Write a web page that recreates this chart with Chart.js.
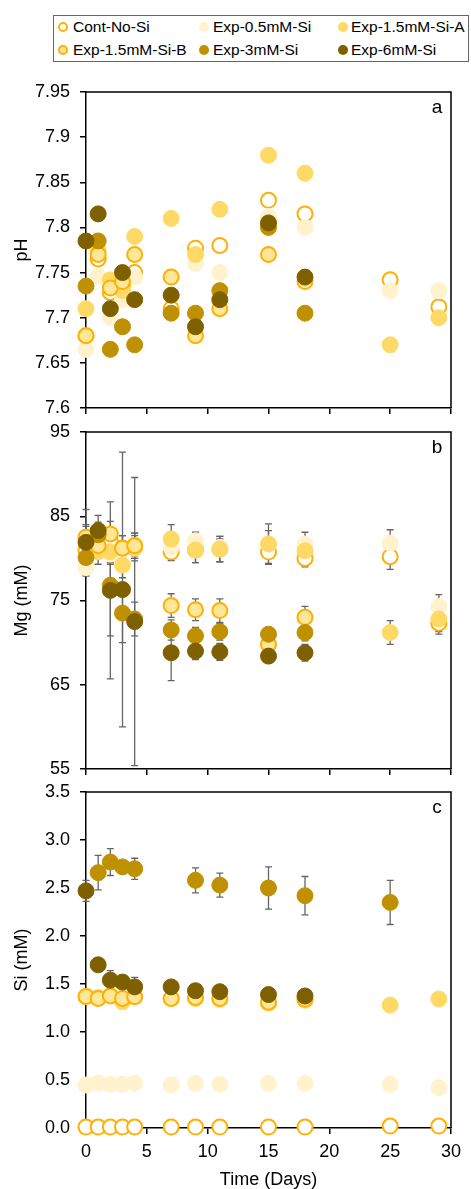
<!DOCTYPE html>
<html><head><meta charset="utf-8">
<script src="https://cdn.jsdelivr.net/npm/chart.js@4.4.1/dist/chart.umd.min.js"></script>
<style>
html,body{margin:0;padding:0;background:#fff;width:471px;height:1189px;overflow:hidden;font-family:'Liberation Sans',Arial,sans-serif;}
canvas{position:absolute;left:0;}
#legendBox{position:absolute;left:53px;top:15px;width:416px;height:47px;border:1px solid #666;box-sizing:border-box;}
.li{position:absolute;font-size:15.5px;line-height:18px;color:#000;white-space:nowrap;}
.mk{position:absolute;width:10px;height:10px;border-radius:50%;box-sizing:border-box;}
</style></head>
<body>
<div id="legendBox"></div>
<div id="legend"></div>
<canvas id="cA" width="471" height="358" style="top:71px"></canvas>
<canvas id="cB" width="471" height="379" style="top:411px"></canvas>
<canvas id="cC" width="471" height="420" style="top:771px"></canvas>
<script>
// ---------- DATA ----------
const days = [0, 1, 2, 3, 4, 7, 9, 11, 15, 18, 25, 29];
const seriesNames = ['Cont-No-Si', 'Exp-0.5mM-Si', 'Exp-1.5mM-Si-A', 'Exp-1.5mM-Si-B', 'Exp-3mM-Si', 'Exp-6mM-Si'];

const xTicks = [0, 5, 10, 15, 20, 25, 30];
const phTicks = [7.6, 7.65, 7.7, 7.75, 7.8, 7.85, 7.9, 7.95];
const phTickLabels = ['7.6', '7.65', '7.7', '7.75', '7.8', '7.85', '7.9', '7.95'];
const mgTicks = [55, 65, 75, 85, 95];
const mgTickLabels = ['55', '65', '75', '85', '95'];
const siTicks = [0, 0.5, 1, 1.5, 2, 2.5, 3, 3.5];
const siTickLabels = ['0.0', '0.5', '1.0', '1.5', '2.0', '2.5', '3.0', '3.5'];

// pH
const phCont = [7.68, 7.765, 7.728, 7.736, 7.75, 7.71, 7.777, 7.78, 7.83, 7.815, 7.742, 7.712];
const ph05   = [7.665, 7.746, 7.70, 7.72, 7.745, 7.745, 7.76, 7.75, 7.812, 7.80, 7.73, 7.73];
const ph15A  = [7.71, 7.775, 7.742, 7.73, 7.79, 7.81, 7.77, 7.82, 7.88, 7.86, 7.67, 7.70];
const ph15B  = [7.68, 7.77, 7.733, 7.74, 7.77, 7.745, 7.68, 7.71, 7.77, 7.74, null, null];
const ph3    = [7.735, 7.785, 7.665, 7.69, 7.67, 7.705, 7.705, 7.73, 7.80, 7.705, null, null];
const ph6    = [7.785, 7.815, 7.71, 7.75, 7.72, 7.725, 7.69, 7.72, 7.805, 7.745, null, null];

// Mg (mM)
const mgCont = [81.0, 81.5, 82.0, 81.2, 81.5, 80.75, 81.0, 81.1, 80.75, 80.0, 80.2, 72.3];
const mg05   = [78.9, 81.0, 80.5, 81.0, 81.3, 81.3, 82.1, 81.3, 81.7, 81.7, 81.8, 74.3];
const mg15A  = [82.3, 80.8, 80.8, 79.2, 81.2, 82.3, 81.0, 81.1, 81.7, 80.9, 71.2, 72.8];
const mg15B  = [82.5, 81.5, 82.9, 81.2, 81.5, 74.4, 73.9, 73.8, 69.8, 73.0, null, null];
const mg3    = [80.1, 82.8, 76.8, 73.5, 72.8, 71.5, 70.8, 71.3, 71.0, 71.2, null, null];
const mg6    = [81.9, 83.3, 76.2, 76.3, 72.5, 68.8, 69.0, 68.9, 68.4, 68.8, null, null];
// Mg error (+/-)
const mgErrCont = [1.5, 1.5, 1.5, 1.5, 1.5, 1.0, 1.5, 1.5, 1.35, 1.0, 1.5, 1.0];
const mgErr05   = [1.0, 1.0, 1.0, 1.0, 1.0, 1.0, 1.0, 1.0, 1.6, 1.4, 1.6, 1.4];
const mgErr15A  = [1.5, 1.5, 1.5, 1.5, 1.5, 1.7, 1.5, 1.5, 2.4, 1.5, 1.4, 1.8];
const mgErr15B  = [1.5, 1.5, 1.5, 1.5, 1.5, 1.4, 1.3, 1.4, 1.0, 1.3, null, null];
const mgErr3    = [2.0, 1.5, 6.0, 3.5, 2.0, 1.2, 1.0, 1.0, 0.8, 1.0, null, null];
const mgErr6    = [3.9, 1.8, 10.5, 16.3, 17.1, 3.3, 1.0, 1.0, 0.8, 1.0, null, null];

// Si (mM)
const siCont = [0.01, 0.01, 0.01, 0.01, 0.01, 0.01, 0.01, 0.01, 0.01, 0.01, 0.02, 0.02];
const si05   = [0.448, 0.47, 0.455, 0.455, 0.47, 0.45, 0.465, 0.455, 0.465, 0.465, 0.455, 0.42];
const si15A  = [1.37, 1.36, 1.38, 1.315, 1.37, 1.35, 1.35, 1.34, 1.30, 1.33, 1.28, 1.344];
const si15B  = [1.37, 1.35, 1.375, 1.35, 1.367, 1.35, 1.36, 1.35, 1.31, 1.34, null, null];
const si3    = [null, 2.66, 2.77, 2.72, 2.70, null, 2.58, 2.53, 2.50, 2.42, 2.35, null];
const si6    = [2.47, 1.70, 1.54, 1.52, 1.47, 1.47, 1.43, 1.42, 1.39, 1.375, null, null];
// Si error (+/-)
const siErr3 = [null, 0.18, 0.14, 0.03, 0.11, null, 0.13, 0.125, 0.22, 0.2, 0.23, null];
const siErr6 = [0.11, 0.02, 0.1, 0.03, 0.1, 0.03, 0.03, 0.03, 0.03, 0.03, null, null];

// ---------- STYLE ----------
const styles = [
  {bg: '#FFFFFF', bd: '#FFB000', bw: 2, r: 7.5},
  {bg: '#FFF2CC', bd: '#FFF2CC', bw: 1, r: 8},
  {bg: '#FFD966', bd: '#FFD966', bw: 1, r: 8},
  {bg: '#FFE699', bd: '#FFB000', bw: 2, r: 7.5},
  {bg: '#BF9000', bd: '#BF9000', bw: 1, r: 8},
  {bg: '#7F6000', bd: '#7F6000', bw: 1, r: 8}
];

Chart.defaults.font.family = "'Liberation Sans', Arial, sans-serif";
Chart.defaults.font.size = 18;
Chart.defaults.color = '#000';

// ---------- LEGEND (HTML) ----------
(function () {
  const cols = [[63, 73], [204, 213], [343, 351]];
  const rows = [27, 50];
  const lg = document.getElementById('legend');
  seriesNames.forEach((n, i) => {
    const c = cols[i % 3], r = rows[Math.floor(i / 3)], s = styles[i];
    const m = document.createElement('div');
    m.className = 'mk';
    m.style.left = (c[0] - 5) + 'px';
    m.style.top = (r - 5) + 'px';
    m.style.background = s.bg;
    m.style.border = (s.bw > 1 ? 2 : 0) + 'px solid ' + s.bd;
    lg.appendChild(m);
    const t = document.createElement('div');
    t.className = 'li';
    t.textContent = n;
    t.style.left = c[1] + 'px';
    t.style.top = (r - 9) + 'px';
    lg.appendChild(t);
  });
})();

// ---------- HELPERS ----------
function makeDatasets(vals, errs) {
  return vals.map((arr, i) => {
    const pts = [];
    days.forEach((d, j) => {
      if (arr[j] == null) return;
      const e = errs && errs[i] ? errs[i][j] : null;
      pts.push({x: d, y: arr[j], e: e});
    });
    const s = styles[i];
    return {
      label: seriesNames[i],
      data: pts,
      backgroundColor: s.bg,
      borderColor: s.bd,
      borderWidth: s.bw,
      pointRadius: s.r,
      pointHoverRadius: s.r,
      showLine: false,
      clip: false,
      order: 6 - i
    };
  });
}

const panelPlugin = {
  id: 'panel',
  beforeDatasetsDraw(chart, args, opts) {
    const {ctx, chartArea: a} = chart;
    const xs = chart.scales.x, ys = chart.scales.y;
    ctx.save();
    ctx.strokeStyle = '#000';
    ctx.lineWidth = 1.5;
    ctx.beginPath();
    ctx.moveTo(a.left, a.top);
    ctx.lineTo(a.right, a.top);
    ctx.lineTo(a.right, a.bottom);
    ctx.stroke();
    ctx.strokeStyle = '#666';
    ctx.lineWidth = 1.3;
    chart.data.datasets.forEach(ds => {
      ds.data.forEach(p => {
        if (p.e == null) return;
        const px = xs.getPixelForValue(p.x);
        const y1 = ys.getPixelForValue(p.y + p.e);
        const y2 = ys.getPixelForValue(p.y - p.e);
        ctx.beginPath();
        ctx.moveTo(px, y1); ctx.lineTo(px, y2);
        ctx.moveTo(px - 3.5, y1); ctx.lineTo(px + 3.5, y1);
        ctx.moveTo(px - 3.5, y2); ctx.lineTo(px + 3.5, y2);
        ctx.stroke();
      });
    });
    ctx.fillStyle = '#000';
    ctx.font = "19px 'Liberation Sans', Arial, sans-serif";
    ctx.textAlign = 'center';
    ctx.textBaseline = 'middle';
    ctx.fillText(opts.letter, a.right - 14, a.top + 16);
    ctx.restore();
  }
};

function makeChart(id, cfg) {
  const axisLine = {display: true, color: '#000', width: 1.5};
  const grid = {display: true, drawOnChartArea: false, drawTicks: true, tickLength: 6, color: '#000', lineWidth: 1.5};
  return new Chart(document.getElementById(id), {
    type: 'scatter',
    data: {datasets: cfg.datasets},
    options: {
      responsive: false,
      animation: false,
      devicePixelRatio: 1,
      events: [],
      layout: {padding: {top: 21, right: 20, bottom: 0, left: 0}},
      plugins: {legend: {display: false}, tooltip: {enabled: false}, panel: {letter: cfg.letter}},
      scales: {
        x: {
          type: 'linear', min: 0, max: 30,
          afterBuildTicks: s => { s.ticks = xTicks.map(v => ({value: v})); },
          afterFit: s => { s.height = cfg.xHeight; },
          border: axisLine, grid: grid,
          ticks: {display: cfg.xLabels, padding: 7, callback: (v, i) => String(xTicks[i]), maxRotation: 0, autoSkip: false},
          title: {display: cfg.xLabels, text: 'Time (Days)', padding: {top: 0, bottom: 0}}
        },
        y: {
          type: 'linear', min: cfg.yTicks[0], max: cfg.yTicks[cfg.yTicks.length - 1],
          afterBuildTicks: s => { s.ticks = cfg.yTicks.map(v => ({value: v})); },
          afterFit: s => { s.width = 86; },
          border: axisLine, grid: grid,
          ticks: {padding: 10, autoSkip: false, callback: (v, i) => cfg.yLabels[i]},
          title: {display: true, text: cfg.yTitle, padding: {top: 11, bottom: 0}}
        }
      }
    },
    plugins: [panelPlugin]
  });
}

makeChart('cA', {
  datasets: makeDatasets([phCont, ph05, ph15A, ph15B, ph3, ph6], null),
  yTicks: phTicks, yLabels: phTickLabels, yTitle: 'pH', letter: 'a', xLabels: false, xHeight: 21
});
makeChart('cB', {
  datasets: makeDatasets([mgCont, mg05, mg15A, mg15B, mg3, mg6], [mgErrCont, mgErr05, mgErr15A, mgErr15B, mgErr3, mgErr6]),
  yTicks: mgTicks, yLabels: mgTickLabels, yTitle: 'Mg (mM)', letter: 'b', xLabels: false, xHeight: 21
});
makeChart('cC', {
  datasets: makeDatasets([siCont, si05, si15A, si15B, si3, si6], [null, null, null, null, siErr3, siErr6]),
  yTicks: siTicks, yLabels: siTickLabels, yTitle: 'Si (mM)', letter: 'c', xLabels: true, xHeight: 63
});
</script>
</body></html>
